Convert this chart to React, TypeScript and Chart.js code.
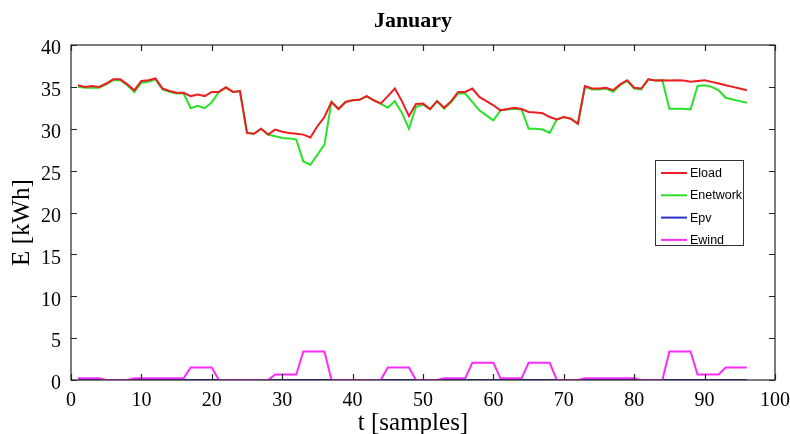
import { useEffect, useRef } from 'react';
import { Chart, registerables } from 'chart.js';

Chart.register(...registerables);

const TITLE = 'January';
const X_LABEL = 't [samples]';
const Y_LABEL = 'E [kWh]';
const X_RANGE = [0, 100];
const X_STEP = 10;
const Y_RANGE = [0, 40];
const Y_STEP = 5;

const SERIES_NAMES = ['Eload', 'Enetwork', 'Epv', 'Ewind'];
const SERIES_COLORS = ['rgb(236,30,36)', 'rgb(40,226,40)', 'rgb(44,44,205)', 'rgb(250,44,250)'];

// energy per sample, kWh (samples 1..96)
const ELOAD = [
  35.2, 35.0, 35.1, 35.0, 35.4, 35.9, 35.9, 35.3, 34.6, 35.7,
  35.8, 36.0, 34.8, 34.5, 34.3, 34.3, 33.9, 34.1, 33.9, 34.4,
  34.4, 34.95, 34.4, 34.5, 29.5, 29.4, 30.0, 29.3, 29.9, 29.65,
  29.5, 29.4, 29.3, 28.95, 30.3, 31.4, 33.2, 32.35, 33.2, 33.4,
  33.45, 33.9, 33.4, 33.0, 33.9, 34.8, 33.3, 31.5, 32.95, 33.0,
  32.35, 33.3, 32.5, 33.3, 34.4, 34.4, 34.8, 33.8, 33.3, 32.8,
  32.2, 32.35, 32.5, 32.35, 32.0, 31.95, 31.85, 31.4, 31.1, 31.4,
  31.2, 30.6, 35.1, 34.8, 34.8, 34.9, 34.6, 35.3, 35.8, 34.9,
  34.8, 35.9, 35.75, 35.8, 35.75, 35.8, 35.75, 35.6, 35.7, 35.8,
  35.6, 35.4, 35.2, 35.0, 34.8, 34.6,
];

const ENETWORK = [
  35.0, 34.9, 34.9, 34.9, 35.3, 35.8, 35.8, 35.2, 34.4, 35.5,
  35.6, 35.9, 34.7, 34.4, 34.2, 34.2, 32.45, 32.75, 32.45, 33.15,
  34.4, 34.9, 34.4, 34.5, 29.5, 29.4, 30.0, 29.3, 29.1, 28.9,
  28.85, 28.7, 26.1, 25.7, 26.9, 28.1, 33.2, 32.35, 33.2, 33.4,
  33.45, 33.9, 33.4, 33.0, 32.5, 33.3, 31.9, 30.0, 32.6, 32.9,
  32.35, 33.3, 32.4, 33.2, 34.2, 34.2, 33.2, 32.2, 31.6, 31.0,
  32.2, 32.3, 32.4, 32.3, 30.0, 30.0, 29.9, 29.5, 31.1, 31.4,
  31.2, 30.6, 35.0, 34.7, 34.7, 34.8, 34.4, 35.2, 35.7, 34.8,
  34.7, 35.9, 35.75, 35.8, 32.4, 32.4, 32.4, 32.3, 35.1, 35.2,
  35.0, 34.6, 33.7, 33.5, 33.3, 33.1,
];

const EPV = [
  0, 0, 0, 0, 0, 0, 0, 0, 0, 0,
  0, 0, 0, 0, 0, 0, 0, 0, 0, 0,
  0, 0, 0, 0, 0, 0, 0, 0, 0, 0,
  0, 0, 0, 0, 0, 0, 0, 0, 0, 0,
  0, 0, 0, 0, 0, 0, 0, 0, 0, 0,
  0, 0, 0, 0, 0, 0, 0, 0, 0, 0,
  0, 0, 0, 0, 0, 0, 0, 0, 0, 0,
  0, 0, 0, 0, 0, 0, 0, 0, 0, 0,
  0, 0, 0, 0, 0, 0, 0, 0, 0, 0,
  0, 0, 0, 0, 0, 0,
];

const EWIND = [
  0.2, 0.2, 0.2, 0.2, 0, 0, 0, 0, 0.2, 0.2,
  0.2, 0.2, 0.2, 0.2, 0.2, 0.2, 1.5, 1.5, 1.5, 1.5,
  0, 0, 0, 0, 0, 0, 0, 0, 0.65, 0.65,
  0.65, 0.65, 3.4, 3.4, 3.4, 3.4, 0, 0, 0, 0,
  0, 0, 0, 0, 1.5, 1.5, 1.5, 1.5, 0, 0,
  0, 0, 0.2, 0.2, 0.2, 0.2, 2.05, 2.05, 2.05, 2.05,
  0.2, 0.2, 0.2, 0.2, 2.05, 2.05, 2.05, 2.05, 0, 0,
  0, 0, 0.2, 0.2, 0.2, 0.2, 0.2, 0.2, 0.2, 0.2,
  0, 0, 0, 0, 3.4, 3.4, 3.4, 3.4, 0.65, 0.65,
  0.65, 0.65, 1.5, 1.5, 1.5, 1.5,
];

const SERIES = [ELOAD, ENETWORK, EPV, EWIND];
// later entries sit underneath: load over network, wind over pv
const DRAW_ORDER = [0, 1, 3, 2];

const SERIF = "'Liberation Serif', 'Times New Roman', serif";
const SANS = "'Liberation Sans', Arial, sans-serif";
const TICK_LEN = 6;

// axes box with inward ticks on all four sides
const framePlugin = {
  id: 'matlabFrame',
  afterDatasetsDraw(chart: any) {
    const { ctx, chartArea: a, scales } = chart;
    ctx.save();
    ctx.strokeStyle = '#262626';
    ctx.lineWidth = 1.2;
    ctx.strokeRect(a.left, a.top, a.right - a.left, a.bottom - a.top);
    ctx.beginPath();
    for (const t of scales.x.ticks) {
      const px = Math.round(scales.x.getPixelForValue(t.value)) + 0.5;
      ctx.moveTo(px, a.bottom);
      ctx.lineTo(px, a.bottom - TICK_LEN);
      ctx.moveTo(px, a.top);
      ctx.lineTo(px, a.top + TICK_LEN);
    }
    for (const t of scales.y.ticks) {
      const py = Math.round(scales.y.getPixelForValue(t.value)) + 0.5;
      ctx.moveTo(a.left, py);
      ctx.lineTo(a.left + TICK_LEN, py);
      ctx.moveTo(a.right, py);
      ctx.lineTo(a.right - TICK_LEN, py);
    }
    ctx.stroke();
    ctx.restore();
  },
};

// figure title and axis labels
const labelsPlugin = {
  id: 'figureLabels',
  afterDraw(chart: any) {
    const { ctx, chartArea: a } = chart;
    const cx = (a.left + a.right) / 2 - 10;
    const cy = (a.top + a.bottom) / 2 + 10;
    ctx.save();
    ctx.fillStyle = '#000000';
    ctx.textAlign = 'center';
    ctx.textBaseline = 'middle';
    ctx.font = `bold 22px ${SERIF}`;
    ctx.fillText(TITLE, cx, 21);
    ctx.font = `25px ${SERIF}`;
    ctx.fillText(X_LABEL, cx, 423);
    ctx.translate(22, cy);
    ctx.rotate(-Math.PI / 2);
    ctx.fillText(Y_LABEL, 0, 0);
    ctx.restore();
  },
};

// boxed legend inside the axes, right side
const legendPlugin = {
  id: 'boxLegend',
  afterDraw(chart: any) {
    const { ctx, chartArea: a } = chart;
    const w = 88;
    const h = 85;
    const x0 = a.right - 32 - w;
    const y0 = a.top + 115;
    const rowH = 22.3;
    ctx.save();
    ctx.fillStyle = '#ffffff';
    ctx.fillRect(x0, y0, w, h);
    ctx.strokeStyle = '#333333';
    ctx.lineWidth = 1;
    ctx.strokeRect(x0 + 0.5, y0 + 0.5, w, h);
    ctx.font = `12.5px ${SANS}`;
    ctx.textBaseline = 'middle';
    ctx.fillStyle = '#000000';
    chart.data.datasets.forEach((ds: any, i: number) => {
      const cy = y0 + 13 + i * rowH;
      ctx.strokeStyle = ds.borderColor;
      ctx.lineWidth = 2;
      ctx.beginPath();
      ctx.moveTo(x0 + 6, cy);
      ctx.lineTo(x0 + 32, cy);
      ctx.stroke();
      ctx.fillText(ds.label, x0 + 35, cy + 0.5);
    });
    ctx.restore();
  },
};

export default function App() {
  const canvasRef = useRef<HTMLCanvasElement | null>(null);

  useEffect(() => {
    document.body.style.margin = '0';
    const canvas = canvasRef.current;
    if (!canvas) return;

    const datasets = SERIES.map((values, i) => ({
      label: SERIES_NAMES[i],
      data: values.map((v, k) => ({ x: k + 1, y: v })),
      borderColor: SERIES_COLORS[i],
      backgroundColor: SERIES_COLORS[i],
      borderWidth: 2,
      pointRadius: 0,
      tension: 0,
      fill: false,
      order: DRAW_ORDER[i],
    }));

    const chart = new Chart(canvas, {
      type: 'line',
      data: { datasets },
      plugins: [framePlugin, labelsPlugin, legendPlugin],
      options: {
        responsive: false,
        animation: false,
        devicePixelRatio: 1,
        layout: { padding: { top: 45, right: 15, left: 0, bottom: 0 } },
        plugins: {
          legend: { display: false },
          tooltip: { enabled: false },
          title: { display: false },
        },
        scales: {
          x: {
            type: 'linear',
            min: X_RANGE[0],
            max: X_RANGE[1],
            grid: { display: false },
            border: { display: false },
            ticks: {
              stepSize: X_STEP,
              color: '#000',
              padding: 1,
              maxRotation: 0,
              font: { family: SERIF, size: 20 },
            },
            afterFit(scale: any) {
              scale.height = 54;
              scale.paddingLeft = 0;
              scale.paddingRight = 0;
            },
          },
          y: {
            type: 'linear',
            min: Y_RANGE[0],
            max: Y_RANGE[1],
            grid: { display: false },
            border: { display: false },
            ticks: {
              stepSize: Y_STEP,
              color: '#000',
              padding: 2,
              labelOffset: 4,
              font: { family: SERIF, size: 20 },
            },
            afterFit(scale: any) {
              scale.width = 71;
            },
          },
        },
      },
    } as any);

    return () => chart.destroy();
  }, []);

  return (
    <div style={{ width: 790, height: 434, background: '#fff' }}>
      <canvas ref={canvasRef} width={790} height={434} style={{ display: 'block' }} />
    </div>
  );
}
